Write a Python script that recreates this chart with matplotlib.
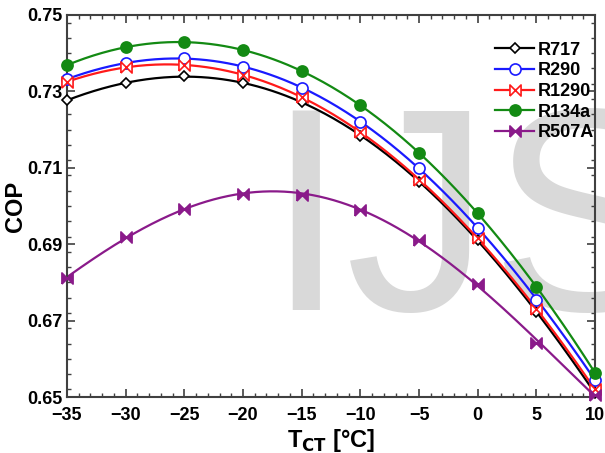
import numpy as np
import matplotlib
matplotlib.use("Agg")
import matplotlib.pyplot as plt
from matplotlib.ticker import MultipleLocator

plt.rcParams['font.family'] = ['Liberation Sans', 'DejaVu Sans']
plt.rcParams['font.weight'] = 'bold'

# data
t_ct = [-35, -30, -25, -20, -15, -10, -5, 0, 5, 10]
r717 = [0.7277, 0.7321, 0.7340, 0.7322, 0.7272, 0.7184, 0.7064, 0.6911, 0.6722, 0.6510]
r290 = [0.7332, 0.7374, 0.7387, 0.7365, 0.7308, 0.7221, 0.7100, 0.6943, 0.6755, 0.6545]
r1290 = [0.7325, 0.7363, 0.7369, 0.7343, 0.7286, 0.7193, 0.7068, 0.6917, 0.6730, 0.6520]
r134a = [0.7369, 0.7415, 0.7429, 0.7409, 0.7353, 0.7264, 0.7138, 0.6981, 0.6789, 0.6563]
r507a = [0.6812, 0.6919, 0.6992, 0.7031, 0.7030, 0.6990, 0.6912, 0.6796, 0.6641, 0.6505]

bowtie = [(-1, -1), (1, 1), (1, -1), (-1, 1), (-1, -1)]

series = [
    ("R717", r717, "black", "D", 5, "white"),
    ("R290", r290, "#1a1aff", "o", 8, "white"),
    ("R1290", r1290, "#ff1a1a", bowtie, 8, "white"),
    ("R134a", r134a, "#138a13", "o", 8, "#138a13"),
    ("R507A", r507a, "#8a1a8a", bowtie, 8, "#8a1a8a"),
]

fig = plt.figure(figsize=(6.05, 4.53), dpi=100)
ax = fig.add_axes([0.1107, 0.1236, 0.8728, 0.8433])

# faint watermark behind the curves
ax.text(265 / 605, 1 - 310 / 453, "IJS", transform=fig.transFigure, fontsize=209,
        color="#d9d9d9", fontweight="normal", ha="left", va="baseline",
        zorder=0.5, clip_on=False)

x = np.array(t_ct, dtype=float)
xs = np.linspace(-35, 10, 300)
for name, vals, col, mk, ms, fc in series:
    coef = np.polyfit(x, vals, 4)
    ax.plot(xs, np.polyval(coef, xs), color=col, lw=1.6, zorder=2)
    ax.plot(x, vals, ls="none", marker=mk, ms=ms, mfc=fc, mec=col, mew=1.2,
            zorder=3, clip_on=False)
    ax.plot([], [], color=col, lw=1.6, marker=mk, ms=ms, mfc=fc, mec=col,
            mew=1.2, label=name)

ax.set_xlim(-35, 10)
ax.set_ylim(0.65, 0.75)
ax.xaxis.set_major_locator(MultipleLocator(5))
ax.xaxis.set_minor_locator(MultipleLocator(1))
ax.yaxis.set_minor_locator(MultipleLocator(0.004))
ax.set_yticks([0.65, 0.67, 0.69, 0.71, 0.73, 0.75])
ax.set_yticklabels(["0.65", "0.67", "0.69", "0.71", "0.73", "0.75"])
ax.tick_params(which="both", direction="in", top=True, right=True,
               labelsize=13, color="#404040")
ax.tick_params(which="major", length=6, width=1.2)
ax.tick_params(which="minor", length=3, width=1.0)
ax.tick_params(axis="x", pad=7)
ax.tick_params(axis="y", pad=3)
for s in ax.spines.values():
    s.set_color("#404040")
    s.set_linewidth(1.5)

ax.set_xlabel(r"T$_{\mathbf{CT}}$ [°C]", fontsize=17, fontweight="bold", labelpad=2)
ax.set_ylabel("COP", fontsize=17, fontweight="bold")
ax.yaxis.set_label_coords(-0.076, 0.5)

leg = ax.legend(loc="upper left", bbox_to_anchor=(0.81, 0.93), frameon=False,
                fontsize=13, handlelength=2.2, handletextpad=0.2,
                labelspacing=0.2, borderaxespad=0, borderpad=0)

fig.savefig("out.png", dpi=100)
